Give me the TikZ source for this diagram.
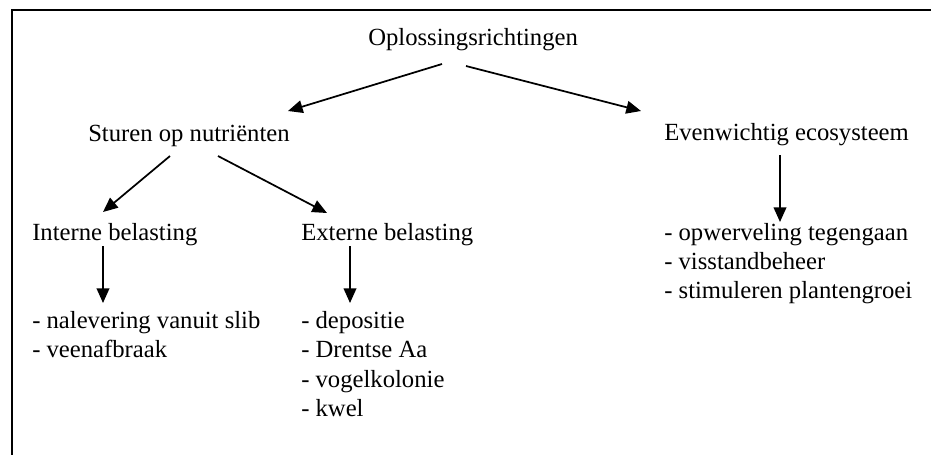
\documentclass[tikz,border=0pt]{standalone}
\usepackage{fontspec}
\setmainfont{Liberation Serif}
\usetikzlibrary{arrows.meta}
\begin{document}
\begin{tikzpicture}[x=0.75pt,y=-0.75pt,
  lbl/.style={anchor=base west,inner sep=0pt,font=\fontsize{18.5}{22}\selectfont},
  arr/.style={line width=1.3pt,-{Triangle[length=11pt,width=9.5pt]}},
  frame/.style={line width=1.5pt}]
\useasboundingbox (0,0) rectangle (931,455);
\coordinate (fa) at (931,9.5);
\coordinate (fc) at (11.5,9.5);
\coordinate (fb) at (11.5,455);
\draw[frame] (fa) -- (fc) -- (fb);
% texts
\node[lbl] (top) at (368,45) {Oplossingsrichtingen};
\node[lbl] (stu) at (88,141) {Sturen op nutriënten};
\node[lbl] (eve) at (664,140) {Evenwichtig ecosysteem};
\node[lbl] (int) at (32,240) {Interne belasting};
\node[lbl] (ext) at (301,240) {Externe belasting};
\node[lbl] (i1) at (32,328) {- nalevering vanuit slib};
\node[lbl] (i2) at (32,357.5) {- veenafbraak};
\node[lbl] (e1) at (301,328) {- depositie};
\node[lbl] (e2) at (301,357.5) {- Drentse Aa};
\node[lbl] (e3) at (301,387) {- vogelkolonie};
\node[lbl] (e4) at (301,416) {- kwel};
\node[lbl] (v1) at (664,240) {- opwerveling tegengaan};
\node[lbl] (v2) at (664,269) {- visstandbeheer};
\node[lbl] (v3) at (664,298) {- stimuleren plantengroei};
% connector endpoints
\coordinate (a1s) at (442,64);
\coordinate (a1e) at (288,111);
\coordinate (a2s) at (466,66);
\coordinate (a2e) at (641,111);
\coordinate (a3s) at (170,156);
\coordinate (a3e) at (103,212);
\coordinate (a4s) at (218,156);
\coordinate (a4e) at (327,213);
\coordinate (a5s) at (103,246);
\coordinate (a5e) at (103,303);
\coordinate (a6s) at (350,246);
\coordinate (a6e) at (350,303);
\coordinate (a7s) at (780,155);
\coordinate (a7e) at (780,222);
\draw[arr] (a1s) -- (a1e);
\draw[arr] (a2s) -- (a2e);
\draw[arr] (a3s) -- (a3e);
\draw[arr] (a4s) -- (a4e);
\draw[arr] (a5s) -- (a5e);
\draw[arr] (a6s) -- (a6e);
\draw[arr] (a7s) -- (a7e);
\end{tikzpicture}
\end{document}
